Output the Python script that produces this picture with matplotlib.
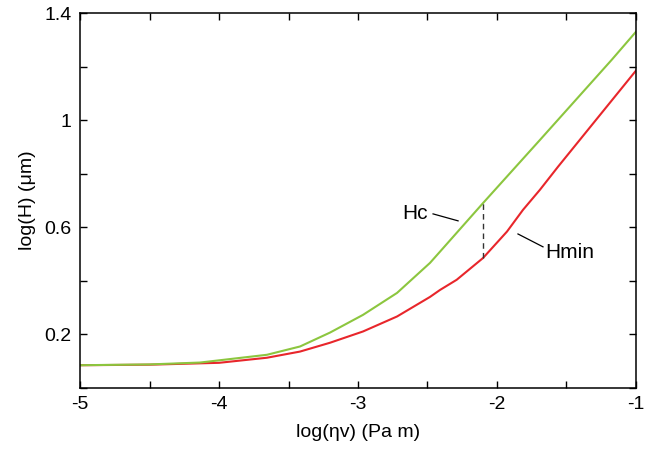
import matplotlib
matplotlib.use("Agg")
import matplotlib.pyplot as plt
import numpy as np

plt.rcParams['font.family'] = ['Liberation Sans', 'DejaVu Sans']
plt.rcParams['axes.unicode_minus'] = False

# Hc (green) and Hmin (red) curves
hc_x = [-5.0, -4.5, -4.137, -3.655, -3.417, -3.201, -2.964, -2.719, -2.482, -2.41, -2.101, -1.691, -1.175, -1.0]
hc_y = [0.085, 0.088, 0.095, 0.124, 0.155, 0.207, 0.273, 0.355, 0.467, 0.509, 0.690, 0.926, 1.225, 1.33]

hmin_x = [-5.0, -4.5, -4.0, -3.655, -3.417, -3.201, -2.964, -2.719, -2.482, -2.41, -2.29, -2.101, -1.928, -1.813, -1.691, -1.561, -1.0]
hmin_y = [0.085, 0.087, 0.094, 0.113, 0.136, 0.169, 0.211, 0.267, 0.340, 0.366, 0.404, 0.485, 0.584, 0.665, 0.740, 0.826, 1.185]

x_ticks = [-5, -4, -3, -2, -1]
y_ticks = [0.2, 0.6, 1.0, 1.4]
y_ticklabels = ['0.2', '0.6', '1', '1.4']

fig = plt.figure(figsize=(6.57, 4.53), dpi=100)
ax = fig.add_axes([0.1218, 0.1435, 0.8462, 0.8278])

ax.plot(hmin_x, hmin_y, color='#e8262b', lw=1.5)
ax.plot(hc_x, hc_y, color='#8cc63f', lw=1.5)

# dashed gap between the curves
xg = -2.101
ax.plot([xg, xg], [np.interp(xg, hmin_x, hmin_y), np.interp(xg, hc_x, hc_y)],
        color='#333333', lw=1, ls=(0, (4, 3)))

ax.plot([-2.46, -2.28], [0.650, 0.624], color='black', lw=0.9)
ax.text(-2.50, 0.652, 'Hc', fontsize=15, ha='right', va='center')
ax.plot([-1.849, -1.669], [0.575, 0.527], color='black', lw=0.9)
ax.text(-1.655, 0.505, 'Hmin', fontsize=15, ha='left', va='center')

ax.set_xlim(-5, -1)
ax.set_ylim(0, 1.4)
ax.set_xticks(x_ticks)
ax.set_xticks(np.arange(-5, -0.9, 0.5), minor=True)
ax.set_yticks(y_ticks)
ax.set_yticklabels(y_ticklabels)
ax.set_yticks(np.arange(0, 1.41, 0.2), minor=True)
ax.tick_params(which='both', direction='in', top=True, right=True, length=5, width=1, labelsize=14, pad=6)

for s in ax.spines.values():
    s.set_linewidth(1.1)

ax.set_xlabel('log(ηv) (Pa m)', fontsize=14, labelpad=8)
ax.set_ylabel('log(H) (μm)', fontsize=14, labelpad=6)

fig.savefig('out.png', dpi=100)
